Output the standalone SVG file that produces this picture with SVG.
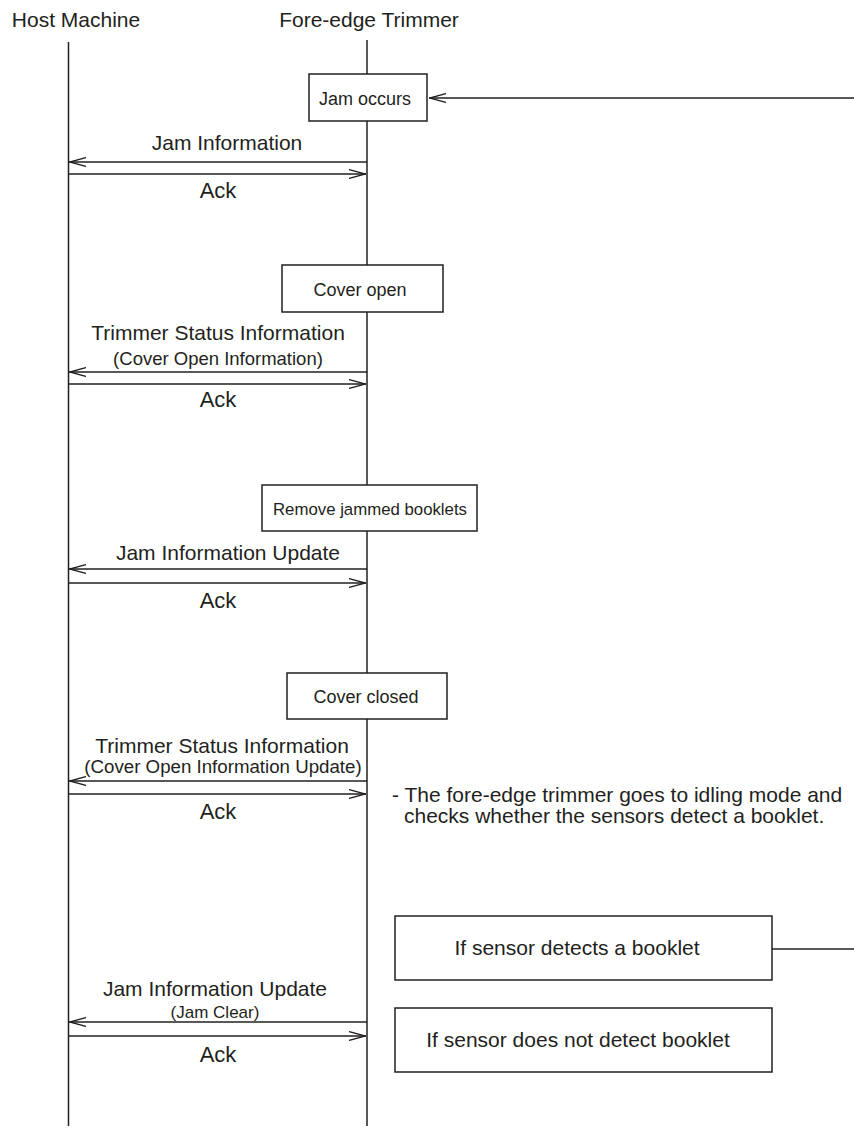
<svg xmlns="http://www.w3.org/2000/svg" width="854" height="1133" viewBox="0 0 854 1133">
<defs>
<style>
text{font-family:"Liberation Sans",Arial,sans-serif;fill:#231f20;text-anchor:middle}
.hd{font-size:21px}
.lb{font-size:21px}
.ack{font-size:22px}
.sm{font-size:18.5px}
.bx{font-size:18px}
.nt{font-size:21px;text-anchor:start}
.ln{stroke:#231f20;stroke-width:1.5;fill:none}
.box{stroke:#231f20;stroke-width:1.5;fill:#fff}
</style>
<marker id="ah" viewBox="0 0 17 10" refX="17" refY="5" markerWidth="17" markerHeight="10" markerUnits="userSpaceOnUse" orient="auto">
<path d="M0,0.6 L16.5,5 L0,9.4" fill="none" stroke="#231f20" stroke-width="1.4"/>
</marker>
</defs>
<rect width="854" height="1133" fill="#fff"/>
<g id="host">
<text class="hd" x="76" y="27">Host Machine</text>
<line class="ln" x1="68.5" y1="42" x2="68.5" y2="1126"/>
</g>
<g id="trimmer">
<text class="hd" x="369" y="27">Fore-edge Trimmer</text>
<line class="ln" x1="367" y1="40" x2="367" y2="1126"/>
</g>
<g id="n-jam">
<rect class="box" x="309" y="74" width="118" height="47"/>
<text class="bx" x="365" y="105">Jam occurs</text>
</g>
<g id="n-cover-open">
<rect class="box" x="282" y="265" width="161" height="47"/>
<text class="bx" x="360" y="296">Cover open</text>
</g>
<g id="n-remove">
<rect class="box" x="262" y="485" width="215" height="46"/>
<text class="bx" x="370" y="515" style="font-size:16.8px">Remove jammed booklets</text>
</g>
<g id="n-cover-closed">
<rect class="box" x="287" y="673" width="160" height="46"/>
<text class="bx" x="366" y="703">Cover closed</text>
</g>
<g id="n-detect">
<rect class="box" x="395" y="916" width="377" height="64"/>
<text class="lb" x="577" y="955">If sensor detects a booklet</text>
</g>
<g id="n-notdetect">
<rect class="box" x="395" y="1008" width="377" height="64"/>
<text class="lb" x="578" y="1047">If sensor does not detect booklet</text>
</g>
<g id="note">
<text class="nt" x="392" y="802">- The fore-edge trimmer goes to idling mode and</text>
<text class="nt" x="404" y="823">checks whether the sensors detect a booklet.</text>
</g>
<g id="connectors">
<line class="ln" x1="854" y1="98" x2="429" y2="98" marker-end="url(#ah)"/>
<line class="ln" x1="772" y1="949" x2="854" y2="949"/>
<line class="ln" x1="367" y1="162" x2="69" y2="162" marker-end="url(#ah)"/>
<line class="ln" x1="69" y1="174" x2="366" y2="174" marker-end="url(#ah)"/>
<line class="ln" x1="367" y1="372" x2="69" y2="372" marker-end="url(#ah)"/>
<line class="ln" x1="69" y1="384" x2="366" y2="384" marker-end="url(#ah)"/>
<line class="ln" x1="367" y1="569" x2="69" y2="569" marker-end="url(#ah)"/>
<line class="ln" x1="69" y1="583" x2="366" y2="583" marker-end="url(#ah)"/>
<line class="ln" x1="367" y1="781" x2="69" y2="781" marker-end="url(#ah)"/>
<line class="ln" x1="69" y1="794" x2="366" y2="794" marker-end="url(#ah)"/>
<line class="ln" x1="367" y1="1022" x2="69" y2="1022" marker-end="url(#ah)"/>
<line class="ln" x1="69" y1="1036" x2="366" y2="1036" marker-end="url(#ah)"/>
<text class="lb" x="227" y="150">Jam Information</text>
<text class="ack" x="218" y="198">Ack</text>
<text class="lb" x="218" y="340">Trimmer Status Information</text>
<text class="sm" x="218" y="365">(Cover Open Information)</text>
<text class="ack" x="218" y="407">Ack</text>
<text class="lb" x="228" y="560">Jam Information Update</text>
<text class="ack" x="218" y="608">Ack</text>
<text class="lb" x="222" y="753">Trimmer Status Information</text>
<text class="sm" x="223" y="773" style="font-size:18.7px">(Cover Open Information Update)</text>
<text class="ack" x="218" y="819">Ack</text>
<text class="lb" x="215" y="996">Jam Information Update</text>
<text class="sm" x="215" y="1018" style="font-size:17px">(Jam Clear)</text>
<text class="ack" x="218" y="1062">Ack</text>
</g>
</svg>
